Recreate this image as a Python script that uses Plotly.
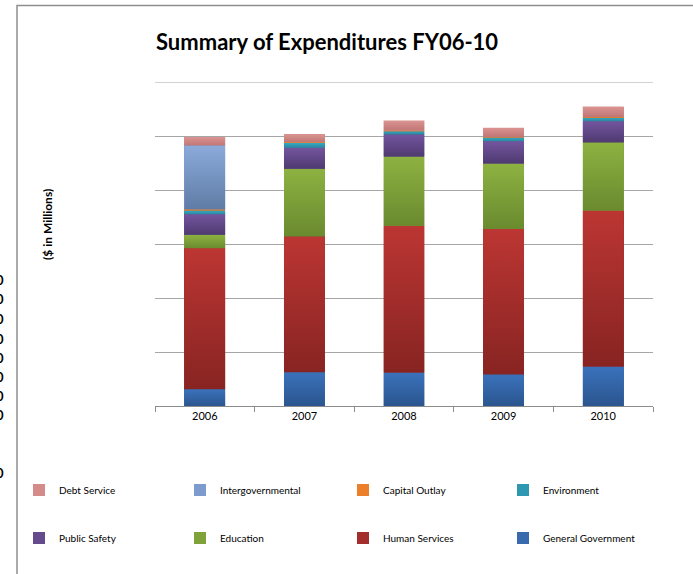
import plotly.graph_objects as go

# Fiscal years on the category axis
years = ["2006", "2007", "2008", "2009", "2010"]

# Expenditures by function ($ in millions), stacked bottom to top
general_government = [6.2, 12.5, 12.4, 11.7, 14.6]
human_services = [52.2, 50.3, 54.4, 53.9, 57.8]
education = [5.0, 25.1, 25.6, 24.2, 25.2]
public_safety = [7.6, 7.8, 8.2, 8.3, 7.9]
environment = [1.4, 1.7, 1.2, 1.3, 1.3]
capital_outlay = [0.4, 0.3, 0.2, 0.2, 0.2]
intergovernmental = [23.7, 0.0, 0.0, 0.0, 0.0]
debt_service = [3.1, 2.9, 3.7, 3.5, 3.9]

# Cut-off value labels sitting at the left edge of the sheet
edge_labels = ["0"] * 9

# name, values, flat colour, gradient bottom, gradient top
series = [
    ("General Government", general_government, "#3A6AAE", "#2B558F", "#3A72BB"),
    ("Human Services", human_services, "#A32E2C", "#872422", "#BC3633"),
    ("Education", education, "#7FA23B", "#6A8A2F", "#8DB241"),
    ("Public Safety", public_safety, "#664A8E", "#4E3A70", "#74559F"),
    ("Environment", environment, "#2E98B0", "#2A88A0", "#35A8C2"),
    ("Capital Outlay", capital_outlay, "#EC7F2A", "#E07020", "#F2913F"),
    ("Intergovernmental", intergovernmental, "#7D9CCD", "#5F7CA6", "#8CAADA"),
    ("Debt Service", debt_service, "#D48B89", "#C07674", "#DB9492"),
]

# Legend grid: 2 rows x 4 columns, top row starts with the last series
legend_cols = [19, 180, 343, 503]
legend_rows = [490, 538]
legend_slots = {
    "Debt Service": (0, 0), "Intergovernmental": (0, 1),
    "Capital Outlay": (0, 2), "Environment": (0, 3),
    "Public Safety": (1, 0), "Education": (1, 1),
    "Human Services": (1, 2), "General Government": (1, 3),
}

xs = list(range(len(years)))
BAR_W = 0.41
Y_MAX, Y_STEP = 120, 20

# Pixel-to-paper helpers for the fixed 693x574 canvas
L, R, T, B = 155, 653, 82, 406
def px(x):
    return (x - L) / (R - L)
def py(y):
    return (B - y) / (B - T)

font = "Lato, 'Open Sans', sans-serif"

fig = go.Figure()
legends = {}

# Stacked bars (each one also supplies its legend swatch)
for k, (name, vals, mid, dark, light) in enumerate(series):
    leg_id = "legend" if k == 0 else f"legend{k + 1}"
    row, col = legend_slots[name]
    legends[leg_id] = dict(
        orientation="h", xanchor="left", yanchor="middle",
        x=px(legend_cols[col]), y=py(legend_rows[row]),
        itemwidth=30, font=dict(size=10, family=font),
        bgcolor="rgba(0,0,0,0)",
    )
    fig.add_trace(go.Bar(
        x=xs, y=vals, name=name, width=BAR_W,
        marker=dict(color=mid, line=dict(width=0)),
        legend=leg_id, hoverinfo="name+y",
    ))

# Vertical gradient shading drawn over each stacked segment
base = [0.0] * len(years)
for name, vals, mid, dark, light in series:
    for j, v in enumerate(vals):
        b, t = base[j], base[j] + v
        if v > 0:
            x0, x1 = xs[j] - BAR_W / 2, xs[j] + BAR_W / 2
            fig.add_trace(go.Scatter(
                x=[x0, x1, x1, x0, x0], y=[b, b, t, t, b],
                mode="none", fill="toself",
                fillgradient=dict(type="vertical",
                                  colorscale=[[0, dark], [1, light]]),
                showlegend=False, hoverinfo="skip",
            ))
        base[j] = t

annotations = [
    dict(text="<b>Summary of Expenditures FY06-10</b>", x=px(327), y=py(41),
         xref="paper", yref="paper", showarrow=False, xanchor="center",
         yanchor="middle", font=dict(size=22, color="#000000", family=font)),
    dict(text="<b>($ in Millions)</b>", x=px(47), y=py(225), textangle=-90,
         xref="paper", yref="paper", showarrow=False, xanchor="center",
         yanchor="middle", font=dict(size=12, color="#000000", family=font)),
]
for lab, ypix in zip(edge_labels, [280, 299, 319, 339, 358, 377, 396, 415, 473]):
    annotations.append(dict(
        text=f"<b>{lab}</b>", x=px(6), y=py(ypix), xref="paper", yref="paper",
        showarrow=False, xanchor="right", yanchor="middle",
        font=dict(size=13, color="#000000", family=font)))

shapes = [
    # outer chart frame (left and top edges)
    dict(type="path", xref="paper", yref="paper",
         path=f"M {px(17)} {py(580)} L {px(17)} {py(5.5)} L {px(700)} {py(5.5)}",
         line=dict(color="#8E8E8E", width=1.5)),
    # top gridline at the edge of the value range
    dict(type="line", xref="paper", yref="y", x0=0, x1=1, y0=Y_MAX, y1=Y_MAX,
         line=dict(color="#A6A6A6", width=1), layer="below"),
]

fig.update_layout(
    width=693, height=574,
    margin=dict(l=L, r=693 - R, t=T, b=574 - B),
    paper_bgcolor="#FFFFFF", plot_bgcolor="#FFFFFF",
    barmode="stack", bargap=0,
    font=dict(family=font, size=11, color="#000000"),
    showlegend=True,
    xaxis=dict(
        range=[-0.5, 4.5], tickmode="array", tickvals=xs, ticktext=years,
        ticks="", showgrid=False, zeroline=False,
        showline=True, linecolor="#8C8C8C", linewidth=1,
        tickfont=dict(size=11, family=font),
        minor=dict(tickmode="array", tickvals=[-0.5, 0.5, 1.5, 2.5, 3.5, 4.5],
                   ticks="outside", ticklen=5, tickcolor="#8C8C8C", showgrid=False),
        fixedrange=True,
    ),
    yaxis=dict(
        range=[0, Y_MAX], dtick=Y_STEP, showticklabels=False, ticks="",
        showgrid=True, gridcolor="#A6A6A6", gridwidth=1,
        zeroline=False, showline=False, fixedrange=True,
    ),
    annotations=annotations,
    shapes=shapes,
    **legends,
)

fig.write_html("out.html")
